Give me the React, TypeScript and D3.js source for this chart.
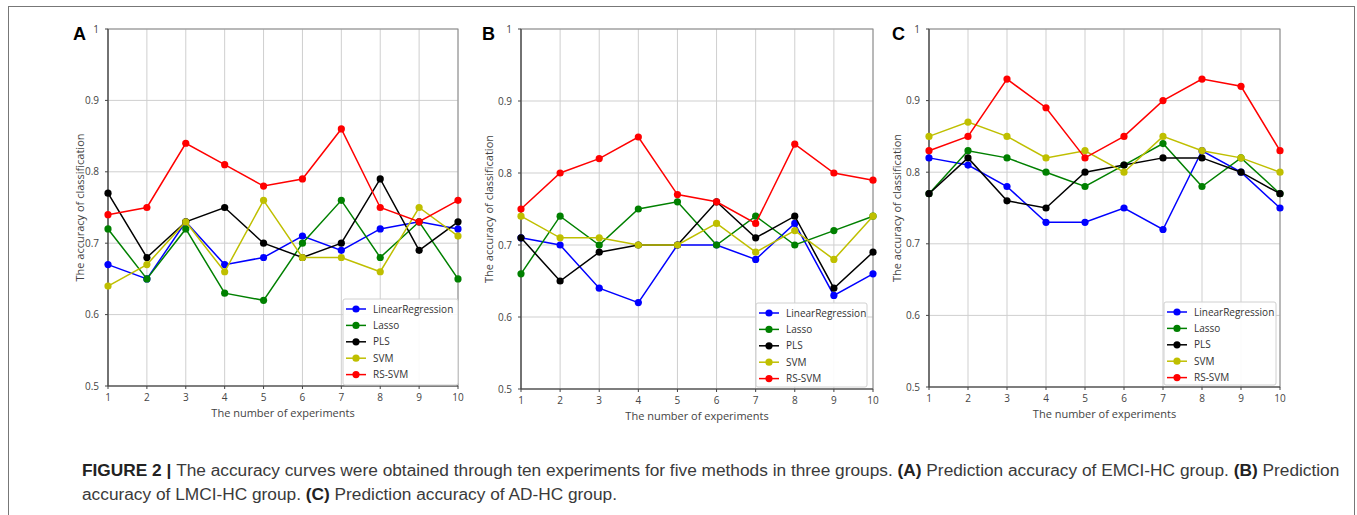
import React from 'react';
import * as d3 from 'd3';

const experiments = [1, 2, 3, 4, 5, 6, 7, 8, 9, 10];
const methods = ['LinearRegression', 'Lasso', 'PLS', 'SVM', 'RS-SVM'];
const yTicks = [0.5, 0.6, 0.7, 0.8, 0.9, 1];
const yTickLabels = ['0.5', '0.6', '0.7', '0.8', '0.9', '1'];

// (A) EMCI-HC
const linearA = [0.67, 0.65, 0.73, 0.67, 0.68, 0.71, 0.69, 0.72, 0.73, 0.72];
const lassoA = [0.72, 0.65, 0.72, 0.63, 0.62, 0.70, 0.76, 0.68, 0.73, 0.65];
const plsA = [0.77, 0.68, 0.73, 0.75, 0.70, 0.68, 0.70, 0.79, 0.69, 0.73];
const svmA = [0.64, 0.67, 0.73, 0.66, 0.76, 0.68, 0.68, 0.66, 0.75, 0.71];
const rsSvmA = [0.74, 0.75, 0.84, 0.81, 0.78, 0.79, 0.86, 0.75, 0.73, 0.76];

// (B) LMCI-HC
const linearB = [0.71, 0.70, 0.64, 0.62, 0.70, 0.70, 0.68, 0.73, 0.63, 0.66];
const lassoB = [0.66, 0.74, 0.70, 0.75, 0.76, 0.70, 0.74, 0.70, 0.72, 0.74];
const plsB = [0.71, 0.65, 0.69, 0.70, 0.70, 0.76, 0.71, 0.74, 0.64, 0.69];
const svmB = [0.74, 0.71, 0.71, 0.70, 0.70, 0.73, 0.69, 0.72, 0.68, 0.74];
const rsSvmB = [0.75, 0.80, 0.82, 0.85, 0.77, 0.76, 0.73, 0.84, 0.80, 0.79];

// (C) AD-HC
const linearC = [0.82, 0.81, 0.78, 0.73, 0.73, 0.75, 0.72, 0.83, 0.80, 0.75];
const lassoC = [0.77, 0.83, 0.82, 0.80, 0.78, 0.81, 0.84, 0.78, 0.82, 0.77];
const plsC = [0.77, 0.82, 0.76, 0.75, 0.80, 0.81, 0.82, 0.82, 0.80, 0.77];
const svmC = [0.85, 0.87, 0.85, 0.82, 0.83, 0.80, 0.85, 0.83, 0.82, 0.80];
const rsSvmC = [0.83, 0.85, 0.93, 0.89, 0.82, 0.85, 0.90, 0.93, 0.92, 0.83];

const colors = ['#0000ff', '#008000', '#000000', '#bfbf00', '#ff0000'];

const panels = [
  { label: 'A', series: [linearA, lassoA, plsA, svmA, rsSvmA], left: 108, right: 458, top: 29, bottom: 386, letterX: 73, titleX: 81, legend: { x: 343, y: 299, w: 115, h: 86 } },
  { label: 'B', series: [linearB, lassoB, plsB, svmB, rsSvmB], left: 521, right: 873, top: 29, bottom: 389, letterX: 482, titleX: 490, legend: { x: 756, y: 303, w: 111, h: 84 } },
  { label: 'C', series: [linearC, lassoC, plsC, svmC, rsSvmC], left: 929, right: 1280, top: 29, bottom: 387, letterX: 892, titleX: 898, legend: { x: 1164, y: 302, w: 112, h: 83 } },
];

const axisFont = '"Open Sans", "DejaVu Sans", sans-serif';

const Panel = ({ p }) => {
  const x = d3.scaleLinear().domain([1, 10]).range([p.left, p.right]);
  const y = d3.scaleLinear().domain([0.5, 1]).range([p.bottom, p.top]);
  const line = d3.line<number>().x((_, i) => x(experiments[i])).y(d => y(d));
  const midX = (p.left + p.right) / 2;
  const midY = (p.top + p.bottom) / 2;

  return (
    <g>
      {/* grid */}
      {experiments.map(t => (
        <line key={`gx${t}`} x1={x(t)} x2={x(t)} y1={p.top} y2={p.bottom} stroke="#cfcfcf" strokeWidth={1} />
      ))}
      {yTicks.map(t => (
        <line key={`gy${t}`} x1={p.left} x2={p.right} y1={y(t)} y2={y(t)} stroke="#cfcfcf" strokeWidth={1} />
      ))}

      {/* frame */}
      <rect x={p.left} y={p.top} width={p.right - p.left} height={p.bottom - p.top} fill="none" stroke="#8a8a8a" strokeWidth={1} />
      <line x1={p.left} x2={p.left} y1={p.top} y2={p.bottom} stroke="#444" strokeWidth={1.2} />
      <line x1={p.left} x2={p.right} y1={p.bottom} y2={p.bottom} stroke="#444" strokeWidth={1.2} />

      {/* ticks */}
      {experiments.map(t => (
        <g key={`tx${t}`}>
          <line x1={x(t)} x2={x(t)} y1={p.bottom} y2={p.bottom + 3} stroke="#444" />
          <text x={x(t)} y={p.bottom + 15} textAnchor="middle" fontSize={10} fill="#444" fontFamily={axisFont}>{t}</text>
        </g>
      ))}
      {yTicks.map((t, i) => (
        <g key={`ty${t}`}>
          <line x1={p.left - 3} x2={p.left} y1={y(t)} y2={y(t)} stroke="#444" />
          <text x={p.left - 9} y={y(t) + 3.5} textAnchor="end" fontSize={10} fill="#444" fontFamily={axisFont}>{yTickLabels[i]}</text>
        </g>
      ))}

      <text x={midX} y={p.bottom + 31} textAnchor="middle" fontSize={11} fill="#444" fontFamily={axisFont}>The number of experiments</text>
      <text transform={`translate(${p.titleX}, ${midY}) rotate(-90)`} textAnchor="middle" dominantBaseline="middle" fontSize={11} fill="#444" fontFamily={axisFont}>The accuracy of classification</text>

      <text x={p.letterX} y={40} fontSize={18} fontWeight="bold" fill="#000" fontFamily='"Liberation Sans", Arial, sans-serif'>{p.label}</text>

      {/* series */}
      {p.series.map((s, si) => (
        <g key={`s${si}`}>
          <path d={line(s)} fill="none" stroke={colors[si]} strokeWidth={1.5} />
          {s.map((v, i) => (
            <circle key={i} cx={x(experiments[i])} cy={y(v)} r={3.6} fill={colors[si]} />
          ))}
        </g>
      ))}

      {/* legend */}
      <g transform={`translate(${p.legend.x}, ${p.legend.y})`}>
        <rect x={0} y={0} width={p.legend.w} height={p.legend.h} fill="#fff" fillOpacity={0.9} stroke="#d0d0d0" rx={2} />
        {methods.map((m, i) => (
          <g key={m} transform={`translate(0, ${10 + i * 16.4})`}>
            <line x1={3} x2={23} y1={0} y2={0} stroke={colors[i]} strokeWidth={1.5} />
            <circle cx={13} cy={0} r={3.6} fill={colors[i]} />
            <text x={30} y={3.5} fontSize={10} fill="#333" fontFamily={axisFont}>{m}</text>
          </g>
        ))}
      </g>
    </g>
  );
};

const App = () => {
  const capFont = '"Liberation Sans", Arial, Helvetica, sans-serif';
  return (
    <div style={{ position: 'absolute', left: 0, top: 0 }}>
      <svg width={1357} height={515} style={{ display: 'block', background: '#fff' }}>
        <rect x={8.5} y={6.5} width={1346} height={530} fill="none" stroke="#777" strokeWidth={1} />
        {panels.map(p => <Panel key={p.label} p={p} />)}
        <text x={82} y={476} fontSize={17.3} fill="#3a3a3a" fontFamily={capFont}>
          <tspan fontWeight="bold" fill="#222">FIGURE 2 | </tspan>
          <tspan>The accuracy curves were obtained through ten experiments for five methods in three groups. </tspan>
          <tspan fontWeight="bold" fill="#222">(A)</tspan>
          <tspan> Prediction accuracy of EMCI-HC group. </tspan>
          <tspan fontWeight="bold" fill="#222">(B)</tspan>
          <tspan> Prediction</tspan>
        </text>
        <text x={82} y={500} fontSize={17.3} fill="#3a3a3a" fontFamily={capFont}>
          <tspan>accuracy of LMCI-HC group. </tspan>
          <tspan fontWeight="bold" fill="#222">(C)</tspan>
          <tspan> Prediction accuracy of AD-HC group.</tspan>
        </text>
      </svg>
    </div>
  );
};

export default App;
